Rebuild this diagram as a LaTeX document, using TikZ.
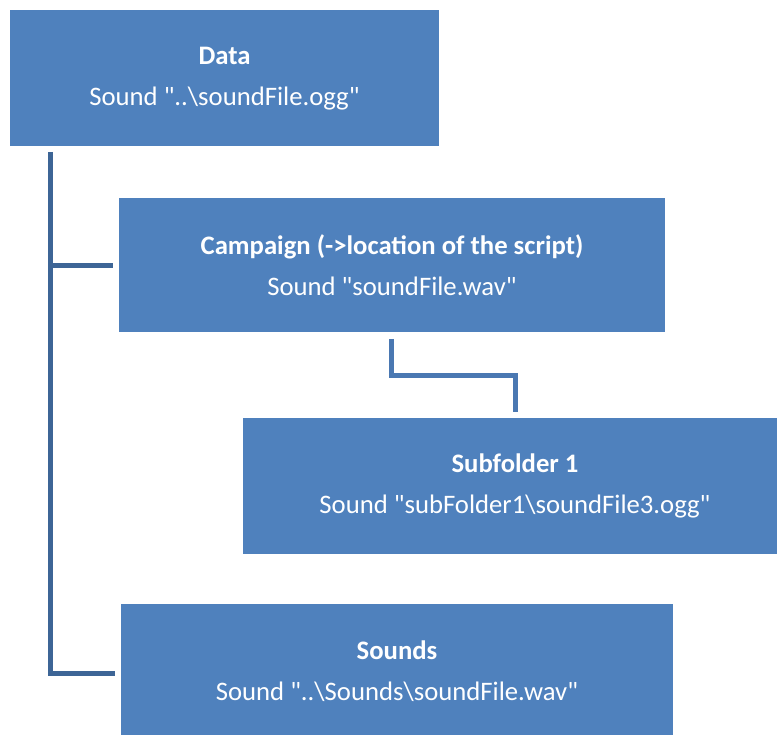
\documentclass[tikz,border=0pt]{standalone}
\usepackage{fontspec}
\setmainfont{Carlito}[Ligatures=TeXOff]
\usetikzlibrary{calc}
\definecolor{boxblue}{HTML}{4F81BD}
\definecolor{trunkblue}{HTML}{3D6596}
\definecolor{linkblue}{HTML}{4A78B2}
\newcommand\dq{\symbol{34}}
\tikzset{
  folder/.style={rectangle, fill=boxblue, draw=none, anchor=north west,
    inner sep=0pt, outer sep=0pt, text=white, align=center,
    font=\fontsize{26.7}{41}\selectfont},
  trunk/.style={draw=trunkblue, line width=5pt},
  link/.style={draw=linkblue, line width=5pt}
}
\begin{document}
\begin{tikzpicture}[x=1pt,y=-1pt]
\useasboundingbox (0,0) rectangle (777,735);
\clip (0,0) rectangle (777,735);
\node[folder, minimum width=429pt, minimum height=136.5pt] (data) at (10,10)
  {\textbf{Data}\\Sound \dq..\textbackslash soundFile.ogg\dq};
\node[folder, minimum width=546pt, minimum height=134.5pt] (campaign) at (119,198)
  {\textbf{Campaign (->location of the script)}\\Sound \dq soundFile.wav\dq};
\node[folder, minimum width=544pt, minimum height=136pt] (sub) at (243,418)
  {\textbf{Subfolder 1}\\Sound \dq subFolder1\textbackslash soundFile3.ogg\dq};
\node[folder, minimum width=552pt, minimum height=135pt] (sounds) at (121,604)
  {\textbf{Sounds}\\Sound \dq..\textbackslash Sounds\textbackslash soundFile.wav\dq};
% trunk from Data
\coordinate (ttop) at ($(data.south west)+(40.8,5.5)$);
\coordinate (tend) at ($(sounds.west)+(-6,1.5)$);
\coordinate (tbr) at ($(campaign.west)+(-6,0)$);
\draw[trunk] (ttop) |- (tend);
\draw[trunk] (ttop |- tbr) -- (tbr);
% link Campaign -> Subfolder
\coordinate (lstart) at ($(campaign.south west)+(272.7,6.5)$);
\coordinate (lend) at ($(sub.north west)+(272.8,-5.5)$);
\draw[link] (lstart) -- ++(0,37) -| (lend);
\end{tikzpicture}
\end{document}
